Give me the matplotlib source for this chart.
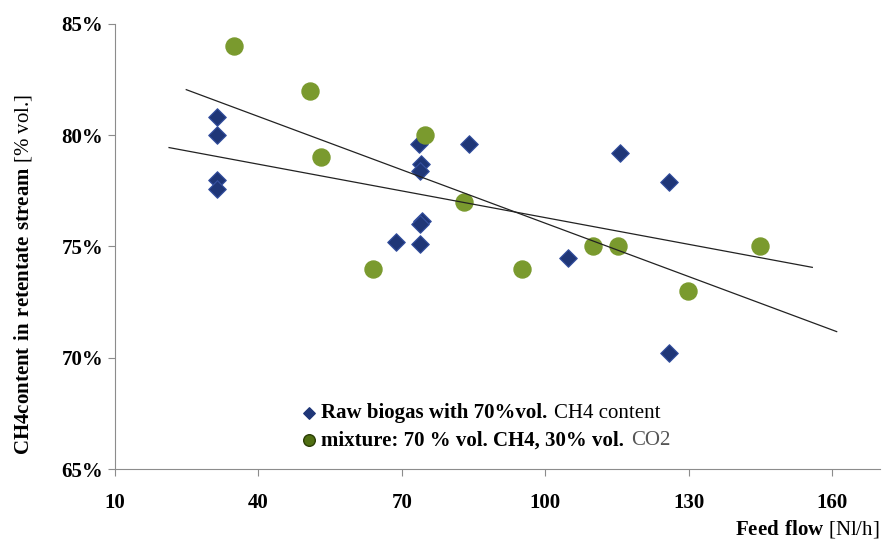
import numpy as np
import matplotlib
matplotlib.use("Agg")
import matplotlib.pyplot as plt
from matplotlib.ticker import FuncFormatter

plt.rcParams["font.family"] = "Liberation Serif"
plt.rcParams["mathtext.fontset"] = "custom"
plt.rcParams["mathtext.rm"] = "Liberation Serif"
plt.rcParams["mathtext.bf"] = "Liberation Serif:bold"

# Raw biogas with 70 % vol. CH4
raw_flow = [31.3, 31.3, 31.3, 31.3, 73.6, 74.0, 73.8, 74.3, 73.9, 68.8, 73.8, 84.1, 104.8, 115.6, 125.9, 125.9]
raw_ch4 = [80.8, 80.0, 78.0, 77.6, 79.6, 78.7, 78.4, 76.15, 76.0, 75.2, 75.1, 79.6, 74.5, 79.2, 77.9, 70.2]

# mixture 70 % CH4 / 30 % CO2
mix_flow = [34.9, 50.8, 53.1, 74.9, 83.0, 64.0, 95.1, 110.0, 115.2, 129.9, 145.0]
mix_ch4 = [84.0, 82.0, 79.0, 80.0, 77.0, 74.0, 74.0, 75.0, 75.0, 73.0, 75.0]

x_ticks = [10, 40, 70, 100, 130, 160]
y_ticks = [65, 70, 75, 80, 85]

leg_bold = ["Raw biogas with 70%vol.", "mixture: 70 % vol. CH4, 30% vol."]
leg_rest = ["CH4 content", "CO2"]

fig = plt.figure(figsize=(8.85, 5.41), dpi=100)
ax = fig.add_axes([0.13, 0.133, 0.864, 0.823])

ax.scatter(raw_flow, raw_ch4, marker="D", s=80, color="#1f3677", edgecolor="#3550a0",
           linewidth=0.8, zorder=3)
ax.scatter(mix_flow, mix_ch4, s=150, color="#7a9a2e", edgecolor="#7a9a2e", zorder=3)

# lineare Trendlinien
k1, d1 = np.polyfit(raw_flow, raw_ch4, 1)
k2, d2 = np.polyfit(mix_flow, mix_ch4, 1)
xr = np.array([min(raw_flow) - 10, max(raw_flow) + 30])
xm = np.array([min(mix_flow) - 10, max(mix_flow) + 16])
ax.plot(xr, k1 * xr + d1, color="#222222", linewidth=0.9, zorder=4)
ax.plot(xm, k2 * xm + d2, color="#222222", linewidth=0.9, zorder=4)

ax.set_xlim(10, 170)
ax.set_ylim(65, 85)
ax.set_xticks(x_ticks)
ax.set_yticks(y_ticks)
ax.yaxis.set_major_formatter(FuncFormatter(lambda v, p: f"{v:.0f}%"))
for s in ["top", "right"]:
    ax.spines[s].set_visible(False)
for s in ["left", "bottom"]:
    ax.spines[s].set_color("#8c8c8c")
ax.tick_params(colors="#8c8c8c", labelcolor="black", labelsize=15, length=5)
for lab in ax.get_xticklabels() + ax.get_yticklabels():
    lab.set_fontweight("bold")
ax.tick_params(axis="x", pad=12)

ax.set_ylabel(r"$\mathbf{CH4content\ in\ retentate\ stream}$ [% vol.]", fontsize=15)
ax.yaxis.set_label_coords(-0.106, 0.436)
fig.text(0.994, 0.012, r"$\mathbf{Feed\ flow}$ [Nl/h]", ha="right", fontsize=15)

h1 = ax.scatter([], [], marker="D", s=34, color="#1f3677")
h2 = ax.scatter([], [], s=70, color="#4f6e12", edgecolor="#2a3d05")
leg = ax.legend([h1, h2], leg_bold, loc="lower left", bbox_to_anchor=(0.215, 0.0),
                frameon=False, prop={"size": 15, "weight": "bold"},
                handletextpad=0.1, labelspacing=0.35, handlelength=1.0)

# normaler Rest hinter den fetten Legendentexten
fig.canvas.draw()
inv = fig.transFigure.inverted()
for t, rest, col in zip(leg.get_texts(), leg_rest, ["black", "#555555"]):
    bb = t.get_window_extent()
    x0, y0 = inv.transform((bb.x1, bb.y0))
    fig.text(x0 + 0.008, y0, rest, fontsize=15, color=col, va="bottom",
             transform=fig.transFigure)

fig.savefig("out.png", dpi=100)
